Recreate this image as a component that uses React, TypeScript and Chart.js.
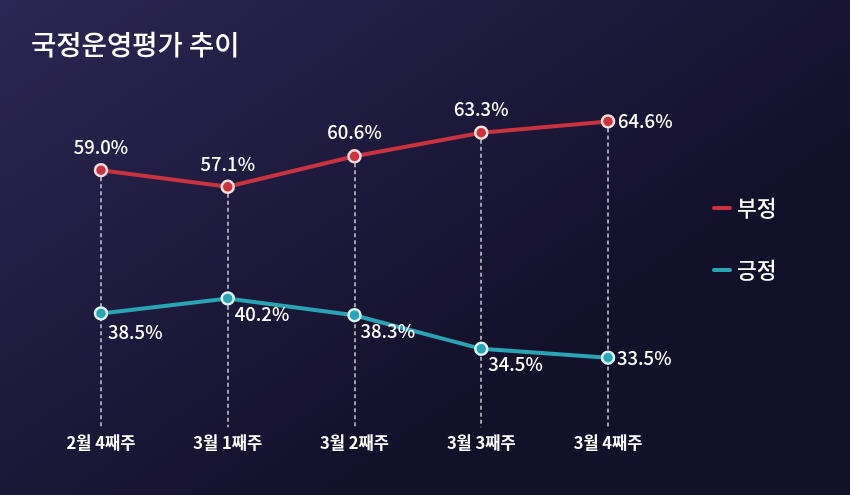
import React, { useEffect, useRef } from "react";
import { Chart, registerables } from "chart.js";

Chart.register(...registerables);

const title = "국정운영평가 추이";
const categories = ["2월 4째주", "3월 1째주", "3월 2째주", "3월 3째주", "3월 4째주"];
const negative = [59.0, 57.1, 60.6, 63.3, 64.6];
const positive = [38.5, 40.2, 38.3, 34.5, 33.5];
const seriesNames = ["부정", "긍정"];
// label placement per point: [dx, dy, align]
const negLabelPos: [number, number, CanvasTextAlign][] = [
  [0, -23, "center"], [0, -23, "center"], [0, -24, "center"], [0, -24, "center"], [10, 0, "left"],
];
const posLabelPos: [number, number, CanvasTextAlign][] = [
  [7, 19, "left"], [7, 16, "left"], [6, 16, "left"], [7, 15, "left"], [9, 0, "left"],
];

const RED = "#c9323f";
const TEAL = "#2aa3b5";
const FONT = "'Noto Sans CJK KR', 'Noto Sans', sans-serif";

const decorPlugin = {
  id: "decor",
  beforeDraw(chart: any) {
    const { ctx, width, height } = chart;
    ctx.save();
    const g = ctx.createLinearGradient(0, 0, width * 0.4, height);
    g.addColorStop(0, "#2c2654");
    g.addColorStop(1, "#13102a");
    ctx.fillStyle = g;
    ctx.fillRect(0, 0, width, height);
    // title
    ctx.fillStyle = "#ffffff";
    ctx.font = `500 27.5px ${FONT}`;
    ctx.textBaseline = "middle";
    ctx.textAlign = "left";
    ctx.fillText(title, 31, 45);
    ctx.restore();
  },
  beforeDatasetsDraw(chart: any) {
    const { ctx, chartArea } = chart;
    const meta = chart.getDatasetMeta(0);
    ctx.save();
    ctx.strokeStyle = "rgba(235,235,245,0.85)";
    ctx.lineWidth = 1.5;
    ctx.setLineDash([4, 3]);
    meta.data.forEach((pt: any) => {
      ctx.beginPath();
      ctx.moveTo(Math.round(pt.x), pt.y);
      ctx.lineTo(Math.round(pt.x), chartArea.bottom);
      ctx.stroke();
    });
    ctx.restore();
  },
  afterDatasetsDraw(chart: any) {
    const { ctx } = chart;
    ctx.save();
    ctx.fillStyle = "#ffffff";
    ctx.font = `500 18.5px ${FONT}`;
    ctx.textBaseline = "middle";
    const drawLabels = (idx: number, vals: number[], pos: [number, number, CanvasTextAlign][]) => {
      const meta = chart.getDatasetMeta(idx);
      meta.data.forEach((pt: any, i: number) => {
        const [dx, dy, al] = pos[i];
        ctx.textAlign = al;
        ctx.fillText(vals[i].toFixed(1) + "%", pt.x + dx, pt.y + dy);
      });
    };
    drawLabels(0, negative, negLabelPos);
    drawLabels(1, positive, posLabelPos);
    // legend
    const items = [
      { name: seriesNames[0], color: RED, y: 208 },
      { name: seriesNames[1], color: TEAL, y: 270 },
    ];
    items.forEach((it) => {
      ctx.strokeStyle = it.color;
      ctx.lineWidth = 4;
      ctx.lineCap = "round";
      ctx.beginPath();
      ctx.moveTo(714, it.y);
      ctx.lineTo(730, it.y);
      ctx.stroke();
      ctx.fillStyle = "#ffffff";
      ctx.font = `500 21.5px ${FONT}`;
      ctx.textAlign = "left";
      ctx.fillText(it.name, 737, it.y);
    });
    ctx.restore();
  },
};

export default function App() {
  const ref = useRef<HTMLCanvasElement>(null);
  useEffect(() => {
    document.body.style.margin = "0";
    const chart = new Chart(ref.current!, {
      type: "line",
      data: {
        labels: categories,
        datasets: [
          {
            label: seriesNames[0],
            data: negative,
            yAxisID: "yNeg",
            borderColor: RED,
            borderWidth: 4,
            pointRadius: 6,
            pointBackgroundColor: RED,
            pointBorderColor: "#f7dede",
            pointBorderWidth: 2.5,
            tension: 0,
          },
          {
            label: seriesNames[1],
            data: positive,
            yAxisID: "yPos",
            borderColor: TEAL,
            borderWidth: 4,
            pointRadius: 6,
            pointBackgroundColor: TEAL,
            pointBorderColor: "#dcf5f5",
            pointBorderWidth: 2.5,
            tension: 0,
          },
        ],
      },
      plugins: [decorPlugin],
      options: {
        animation: false,
        responsive: false,
        layout: { padding: { left: 37.6, right: 178.6, top: 60, bottom: 36 } },
        plugins: { legend: { display: false }, tooltip: { enabled: false } },
        scales: {
          x: {
            offset: true,
            grid: { display: false, drawTicks: false },
            border: { display: false },
            ticks: {
              color: "#ffffff",
              padding: 6,
              font: { family: FONT, size: 16.5, weight: "bold" },
            },
          },
          yNeg: { display: false, min: 29.54, max: 71.64 },
          yPos: { display: false, min: 25.65, max: 67.13 },
        },
      },
    });
    return () => chart.destroy();
  }, []);
  return (
    <div style={{ width: 850, height: 495 }}>
      <canvas ref={ref} width={850} height={495} />
    </div>
  );
}
